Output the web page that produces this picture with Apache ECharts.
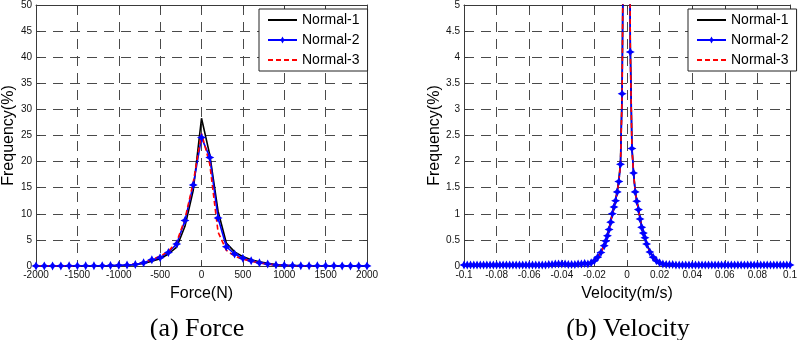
<!DOCTYPE html>
<html>
<head>
<meta charset="utf-8">
<script src="https://cdn.jsdelivr.net/npm/echarts@6/dist/echarts.min.js"></script>
<style>html,body{margin:0;padding:0;background:#fff;}#c{width:800px;height:340px;}</style>
</head>
<body>
<div id="c"></div>
<script>
// ---------- Force panel ----------
const forceX = [-2000,-1900,-1800,-1700,-1600,-1500,-1400,-1300,-1200,-1100,-1000,-900,-800,-700,-600,-500,-400,-300,-200,-100,0,100,200,300,400,500,600,700,800,900,1000,1100,1200,1300,1400,1500,1600,1700,1800,1900,2000];
const forceN1 = [0.02,0.02,0.02,0.02,0.03,0.03,0.03,0.04,0.05,0.07,0.1,0.15,0.3,0.5,0.9,1.4,2.3,3.6,7.6,14.5,28.3,21.3,10.5,4.4,2.7,1.8,1.2,0.8,0.5,0.3,0.15,0.1,0.07,0.05,0.04,0.03,0.03,0.02,0.02,0.02,0.02];
const forceN2 = [0.02,0.02,0.02,0.02,0.03,0.03,0.04,0.05,0.06,0.08,0.12,0.2,0.3,0.6,1.2,1.6,2.6,4.2,8.7,15.5,24.6,20.8,9.2,3.7,2.3,1.5,1.0,0.6,0.4,0.2,0.12,0.08,0.06,0.05,0.04,0.03,0.03,0.02,0.02,0.02,0.02];
const forceN3 = [0.02,0.02,0.02,0.02,0.03,0.03,0.04,0.05,0.07,0.1,0.15,0.25,0.4,0.7,1.2,1.9,2.8,4.6,9.0,16.0,25.4,19.5,6.5,3.0,1.9,1.3,0.9,0.6,0.35,0.2,0.1,0.07,0.05,0.04,0.03,0.03,0.02,0.02,0.02,0.02,0.02];

// ---------- Velocity panel ----------
const velX = [-0.1,-0.098,-0.096,-0.094,-0.092,-0.09,-0.088,-0.086,-0.084,-0.082,-0.08,-0.078,-0.076,-0.074,-0.072,-0.07,-0.068,-0.066,-0.064,-0.062,-0.06,-0.058,-0.056,-0.054,-0.052,-0.05,-0.048,-0.046,-0.044,-0.042,-0.04,-0.038,-0.036,-0.034,-0.032,-0.03,-0.028,-0.026,
 -0.024,-0.022,-0.02,-0.018,-0.016,-0.014,
 -0.013,-0.012,-0.011,-0.01,-0.009,-0.008,-0.007,-0.006,-0.005,-0.004,-0.003,-0.002,-0.001,0,0.001,0.002,0.003,0.004,0.005,0.006,0.007,0.008,0.009,0.01,0.011,0.012,
 0.014,0.016,0.018,0.02,0.022,0.024,
 0.026,0.028,0.03,0.032,0.034,0.036,0.038,0.04,0.042,0.044,0.046,0.048,0.05,0.052,0.054,0.056,0.058,0.06,0.062,0.064,0.066,0.068,0.07,0.072,0.074,0.076,0.078,0.08,0.082,0.084,0.086,0.088,0.09,0.092,0.094,0.096,0.098,0.1];
const velN1 = [0.02,0.02,0.02,0.02,0.02,0.02,0.02,0.02,0.02,0.02,0.02,0.02,0.02,0.02,0.02,0.02,0.02,0.02,0.02,0.02,0.02,0.02,0.02,0.02,0.02,0.02,0.03,0.03,0.04,0.04,0.04,0.04,0.03,0.03,0.03,0.04,0.04,0.05,
 0.05,0.07,0.11,0.18,0.27,0.41,
 0.5,0.6,0.72,0.86,1.02,1.15,1.27,1.45,1.65,2.0,3.4,7.8,14.5,18.5,12.5,4.3,2.3,1.8,1.44,1.26,1.1,0.92,0.76,0.65,0.55,0.43,
 0.28,0.18,0.11,0.07,0.05,0.04,
 0.03,0.03,0.03,0.02,0.02,0.02,0.02,0.02,0.02,0.02,0.02,0.02,0.02,0.02,0.02,0.02,0.02,0.02,0.02,0.02,0.02,0.02,0.02,0.02,0.02,0.02,0.02,0.02,0.02,0.02,0.02,0.02,0.02,0.02,0.02,0.02,0.02,0.02];
const velN2 = [0.02,0.02,0.02,0.02,0.02,0.02,0.02,0.02,0.02,0.02,0.02,0.02,0.02,0.02,0.02,0.02,0.02,0.02,0.02,0.02,0.02,0.02,0.02,0.02,0.02,0.02,0.03,0.03,0.04,0.04,0.04,0.04,0.03,0.03,0.03,0.04,0.04,0.05,
 0.04,0.06,0.10,0.17,0.26,0.39,
 0.48,0.58,0.70,0.84,1.0,1.13,1.25,1.42,1.62,1.95,3.3,7.5,14,18,12,4.1,2.25,1.78,1.42,1.24,1.08,0.9,0.74,0.63,0.54,0.42,
 0.27,0.17,0.1,0.06,0.04,0.03,
 0.03,0.03,0.02,0.02,0.02,0.02,0.02,0.02,0.02,0.02,0.02,0.02,0.02,0.02,0.02,0.02,0.02,0.02,0.02,0.02,0.02,0.02,0.02,0.02,0.02,0.02,0.02,0.02,0.02,0.02,0.02,0.02,0.02,0.02,0.02,0.02,0.02,0.02];
const velN3 = [0.02,0.02,0.02,0.02,0.02,0.02,0.02,0.02,0.02,0.02,0.02,0.02,0.02,0.02,0.02,0.02,0.02,0.02,0.02,0.02,0.02,0.02,0.02,0.02,0.02,0.02,0.03,0.03,0.03,0.04,0.04,0.03,0.03,0.03,0.03,0.03,0.04,0.04,
 0.04,0.06,0.1,0.17,0.26,0.39,
 0.48,0.58,0.7,0.84,1.0,1.13,1.25,1.42,1.62,1.95,3.3,7.6,14.2,18.2,12.2,4.15,2.25,1.78,1.42,1.24,1.08,0.9,0.74,0.63,0.54,0.42,
 0.27,0.17,0.1,0.06,0.04,0.03,
 0.03,0.02,0.02,0.02,0.02,0.02,0.02,0.02,0.02,0.02,0.02,0.02,0.02,0.02,0.02,0.02,0.02,0.02,0.02,0.02,0.02,0.02,0.02,0.02,0.02,0.02,0.02,0.02,0.02,0.02,0.02,0.02,0.02,0.02,0.02,0.02,0.02,0.02];

const seriesNames = ['Normal-1','Normal-2','Normal-3'];
const captions = ['(a) Force','(b) Velocity'];
const axisTitles = {forceX:'Force(N)', velX:'Velocity(m/s)', y:'Frequency(%)'};

const zip = (xs, ys) => xs.map((x, i) => [x, ys[i]]);
const starPath = 'path://M5,0 L6.7,3.3 L10,5 L6.7,6.7 L5,10 L3.3,6.7 L0,5 L3.3,3.3 Z';
const frameColor = '#3a3a3a';
const gridLine = {show: true, lineStyle: {color: '#4a4a4a', type: [10, 7], width: 1}};
const labelFont = {fontFamily: 'Liberation Sans, Arial, sans-serif', fontSize: 10, color: '#111'};
const nameFont = {fontFamily: 'Liberation Sans, Arial, sans-serif', fontSize: 16, color: '#000'};

function mainX(grid, min, max, interval, name, fmt) {
  return {type: 'value', gridIndex: grid, min, max, interval, position: 'bottom',
    name, nameLocation: 'middle', nameGap: 20, nameTextStyle: nameFont,
    axisLine: {show: true, onZero: false, lineStyle: {color: frameColor, width: 1}},
    axisTick: {show: true, inside: true, length: 4, lineStyle: {color: frameColor}},
    axisLabel: Object.assign({margin: 4, formatter: fmt, showMaxLabel: true, showMinLabel: true}, labelFont),
    splitLine: gridLine};
}
function mirrorX(grid, min, max, interval) {
  return {type: 'value', gridIndex: grid, min, max, interval, position: 'top',
    axisLine: {show: true, onZero: false, lineStyle: {color: frameColor, width: 1}},
    axisTick: {show: true, inside: true, length: 4, lineStyle: {color: frameColor}},
    axisLabel: {show: false}, splitLine: {show: false}};
}
function mainY(grid, min, max, interval, gap, fmt) {
  return {type: 'value', gridIndex: grid, min, max, interval, position: 'left',
    name: axisTitles.y, nameLocation: 'middle', nameGap: gap, nameTextStyle: nameFont,
    axisLine: {show: true, onZero: false, lineStyle: {color: frameColor, width: 1}},
    axisTick: {show: true, inside: true, length: 4, lineStyle: {color: frameColor}},
    axisLabel: Object.assign({margin: 4, formatter: fmt}, labelFont),
    splitLine: gridLine};
}
function mirrorY(grid, min, max, interval) {
  return {type: 'value', gridIndex: grid, min, max, interval, position: 'right',
    axisLine: {show: true, onZero: false, lineStyle: {color: frameColor, width: 1}},
    axisTick: {show: true, inside: true, length: 4, lineStyle: {color: frameColor}},
    axisLabel: {show: false}, splitLine: {show: false}};
}
function lines(xi, yi, xs, y1, y2, y3) {
  return [
    {name: seriesNames[0], type: 'line', xAxisIndex: xi, yAxisIndex: yi, data: zip(xs, y1),
     showSymbol: false, symbol: 'none', lineStyle: {color: '#000', width: 1.6}, itemStyle: {color: '#000'}, animation: false},
    {name: seriesNames[1], type: 'line', xAxisIndex: xi, yAxisIndex: yi, data: zip(xs, y2),
     symbol: starPath, symbolSize: 9, lineStyle: {color: '#0000ff', width: 1.6}, itemStyle: {color: '#0000ff'}, animation: false},
    {name: seriesNames[2], type: 'line', xAxisIndex: xi, yAxisIndex: yi, data: zip(xs, y3),
     showSymbol: false, symbol: 'none', lineStyle: {color: '#ff0000', width: 1.6, type: [5, 3]}, itemStyle: {color: '#ff0000'}, animation: false}
  ];
}
function legend(left) {
  return {orient: 'vertical', left, top: 9, padding: [4, 8, 4, 8], itemWidth: 29, itemHeight: 9, itemGap: 6,
    backgroundColor: '#fff', borderColor: '#222', borderWidth: 1, borderRadius: 0,
    textStyle: {fontFamily: 'Liberation Sans, Arial, sans-serif', fontSize: 14, color: '#000'},
    data: [
      {name: seriesNames[0], itemStyle: {opacity: 0}},
      {name: seriesNames[1]},
      {name: seriesNames[2], itemStyle: {opacity: 0}}
    ]};
}

const chart = echarts.init(document.getElementById('c'), null, {renderer: 'canvas'});
const option = {
  animation: false,
  backgroundColor: '#fff',
  title: [
    {text: captions[0], left: 192, top: 311, textAlign: 'center',
     textStyle: {fontFamily: 'Liberation Serif, Times New Roman, serif', fontSize: 26, fontWeight: 'normal', color: '#000'}},
    {text: captions[1], left: 623, top: 311, textAlign: 'center',
     textStyle: {fontFamily: 'Liberation Serif, Times New Roman, serif', fontSize: 26, fontWeight: 'normal', color: '#000'}}
  ],
  legend: [legend(259), legend(688)],
  grid: [
    {left: 35, right: 433, top: 4, bottom: 74},
    {left: 464, right: 3, top: 4, bottom: 74}
  ],
  xAxis: [
    mainX(0, -2000, 2000, 500, axisTitles.forceX, v => String(v)),
    mirrorX(0, -2000, 2000, 500),
    mainX(1, -0.1, 0.1, 0.02, axisTitles.velX, v => String(+v.toFixed(2))),
    mirrorX(1, -0.1, 0.1, 0.02)
  ],
  yAxis: [
    mainY(0, 0, 50, 5, 19, v => String(v)),
    mirrorY(0, 0, 50, 5),
    mainY(1, 0, 5, 0.5, 19, v => String(+v.toFixed(1))),
    mirrorY(1, 0, 5, 0.5)
  ],
  series: [].concat(
    lines(0, 0, forceX, forceN1, forceN2, forceN3),
    lines(2, 2, velX, velN1, velN2, velN3)
  )
};
chart.setOption(option);
</script>
</body>
</html>
